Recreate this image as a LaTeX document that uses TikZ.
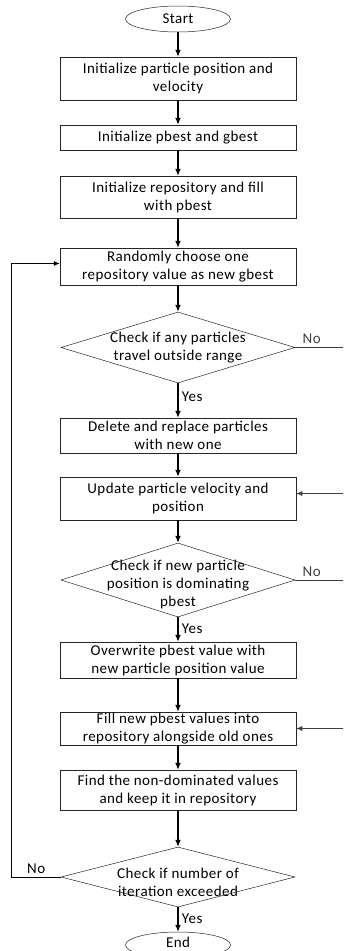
\documentclass[tikz,border=0pt]{standalone}
\usepackage{fontspec}
\setmainfont[LetterSpace=3]{Carlito}
\usetikzlibrary{positioning,arrows.meta,shapes.geometric}

\begin{document}
\begin{tikzpicture}[x=1pt,y=-1pt,
    font=\fontsize{15}{18}\selectfont,
    box/.style={draw=black!85,line width=0.5pt,minimum width=236pt,align=center,inner sep=1pt},
    dia/.style={diamond,draw=black!85,line width=0.5pt,minimum width=234pt,inner sep=0pt},
    term/.style={ellipse,draw=black!85,line width=0.5pt,minimum width=105pt,minimum height=26pt,inner sep=0pt},
    arr/.style={-{Latex[length=7pt,width=6pt]},line width=1.2pt},
    back/.style={-{Latex[length=6pt,width=5pt]},line width=0.7pt}
  ]
    \useasboundingbox (0,0) rectangle (343,951);
    \clip (0,0) rectangle (343,951);
    \node[term] (start) at (178,19) {Start};
    \node[box,minimum height=43pt] (init) at (178,78.5) {Initialize particle position and\\velocity};
    \node[box,minimum height=25pt] (pbg)  at (178,137.5) {Initialize pbest and gbest};
    \node[box,minimum height=42pt] (repo) at (178,197) {Initialize repository and fill\\with pbest};
    \node[box,minimum height=37pt] (rand) at (178,266.5) {Randomly choose one\\repository value as new gbest};
    \node[dia,minimum height=71pt,label={[align=center]center:Check if any particles\\travel outside range}] (chk1) at (178,347.5) {};
    \node[box,minimum height=35pt] (del)  at (178,435.5) {Delete and replace particles\\with new one};
    \node[box,minimum height=43pt] (upd)  at (178,498.5) {Update particle velocity and\\position};
    \node[dia,minimum height=74pt,label={[align=center,yshift=-4pt]center:Check if new particle\\position is dominating\\pbest}] (chk2) at (178,580) {};
    \node[box,minimum height=36pt] (over) at (178,660) {Overwrite pbest value with\\new particle position value};
    \node[box,minimum height=33pt] (fill) at (178,728.5) {Fill new pbest values into\\repository alongside old ones};
    \node[box,minimum height=40pt] (find) at (178,790) {Find the non-dominated values\\and keep it in repository};
    \node[dia,minimum height=60pt,label={[align=center,yshift=-5pt]center:Check if number of\\iteration exceeded}] (chk3) at (178,877) {};
    \node[term,text depth=6pt] (stop) at (178,945) {End};

    \foreach \a/\b in {start/init,init/pbg,pbg/repo,repo/rand,rand/chk1,del/upd,upd/chk2,over/fill,fill/find,find/chk3}
      \draw[arr] (\a) -- (\b);
    \draw[arr] (chk1) -- node[right,pos=0.4] {Yes} (del);
    \draw[arr] (chk2) -- node[right,pos=0.45] {Yes} (over);
    \draw[arr] (chk3) -- node[right,pos=0.45] {Yes} (stop);

    \draw[back,black!75] (chk1.east) -- node[above,pos=0.3] {No} ++(55,0) |- ([yshift=5pt]upd.east);
    \draw[back,black!75] (chk2.east) -- node[above,pos=0.3] {No} ++(55,0) |- (fill.east);
    \draw[back] (chk3.west) -- node[above] {No} ++(-49,0) |- ([yshift=3pt]rand.west);
  \end{tikzpicture}
\end{document}
